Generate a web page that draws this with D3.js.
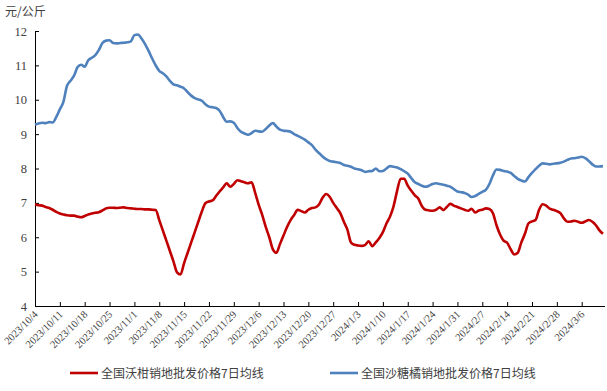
<!DOCTYPE html>
<html>
<head>
<meta charset="utf-8">
<script src="https://cdn.jsdelivr.net/npm/d3@7"></script>
<style>
  body { margin: 0; background: #fff; }
  svg { display: block; }
</style>
</head>
<body>
<div id="chart"></div>
<script>
var startDate = "2023-10-04";
var dayCount = 161;

// 全国沃柑销地批发价格7日均线 (元/公斤), daily from 2023/10/4
var woganValues = [
  6.95, 6.93, 6.92, 6.88, 6.85, 6.80, 6.74, 6.69, 6.66, 6.64,
  6.63, 6.63, 6.60, 6.58, 6.62, 6.66, 6.69, 6.71, 6.73, 6.78,
  6.84, 6.86, 6.86, 6.85, 6.86, 6.87, 6.85, 6.84, 6.83, 6.82,
  6.82, 6.81, 6.81, 6.80, 6.79, 6.50, 6.20, 5.90, 5.60, 5.30,
  4.98, 4.92, 5.25, 5.55, 5.85, 6.15, 6.45, 6.75, 6.99, 7.04,
  7.07, 7.20, 7.33, 7.45, 7.57, 7.47, 7.55, 7.66, 7.63, 7.60,
  7.57, 7.60, 7.30, 6.95, 6.65, 6.30, 6.00, 5.65, 5.55, 5.80,
  6.05, 6.30, 6.50, 6.65, 6.80, 6.76, 6.72, 6.80, 6.85, 6.87,
  6.95, 7.15, 7.26, 7.18, 7.00, 6.85, 6.70, 6.45, 6.22, 5.85,
  5.78, 5.76, 5.75, 5.78, 5.88, 5.74, 5.85, 5.98, 6.15, 6.40,
  6.60, 6.90, 7.35, 7.70, 7.70, 7.50, 7.35, 7.22, 7.12, 6.90,
  6.80, 6.78, 6.77, 6.80, 6.87, 6.79, 6.88, 6.97, 6.92, 6.88,
  6.84, 6.80, 6.77, 6.83, 6.72, 6.78, 6.80, 6.84, 6.82, 6.70,
  6.35, 6.08, 5.90, 5.84, 5.65, 5.50, 5.55, 5.85, 6.10, 6.40,
  6.46, 6.50, 6.80, 6.96, 6.92, 6.83, 6.80, 6.76, 6.70, 6.55,
  6.45, 6.46, 6.48, 6.45, 6.42, 6.46, 6.50, 6.45, 6.35, 6.20,
  6.10
];

// 全国沙糖橘销地批发价格7日均线 (元/公斤)
var shatangjuValues = [
  9.28, 9.31, 9.33, 9.32, 9.35, 9.34, 9.50, 9.72, 9.94, 10.40,
  10.55, 10.70, 10.95, 11.02, 10.96, 11.15, 11.22, 11.30, 11.45, 11.65,
  11.72, 11.73, 11.65, 11.64, 11.65, 11.66, 11.67, 11.70, 11.88, 11.90,
  11.78, 11.62, 11.42, 11.20, 11.00, 10.84, 10.77, 10.68, 10.55, 10.45,
  10.42, 10.38, 10.33, 10.22, 10.12, 10.05, 10.01, 9.97, 9.87, 9.80,
  9.78, 9.76, 9.68, 9.50, 9.36, 9.37, 9.33, 9.18, 9.07, 9.02,
  8.98, 9.03, 9.10, 9.08, 9.07, 9.15, 9.25, 9.32, 9.22, 9.13,
  9.10, 9.09, 9.07, 9.00, 8.95, 8.90, 8.84, 8.76, 8.68, 8.55,
  8.45, 8.35, 8.27, 8.22, 8.20, 8.18, 8.16, 8.10, 8.08, 8.05,
  8.00, 7.98, 7.95, 7.90, 7.92, 7.93, 8.00, 7.92, 7.93, 8.00,
  8.07, 8.05, 8.03, 7.98, 7.92, 7.85, 7.72, 7.60, 7.55, 7.50,
  7.47, 7.50, 7.55, 7.57, 7.55, 7.53, 7.50, 7.47, 7.40, 7.33,
  7.31, 7.29, 7.24, 7.17, 7.20, 7.26, 7.32, 7.38, 7.55, 7.80,
  7.97, 7.96, 7.93, 7.91, 7.87, 7.78, 7.70, 7.65, 7.62, 7.75,
  7.87, 7.98, 8.08, 8.15, 8.14, 8.12, 8.14, 8.15, 8.17, 8.20,
  8.25, 8.29, 8.30, 8.32, 8.34, 8.30, 8.22, 8.12, 8.06, 8.06,
  8.07
];

var yTicks = [4, 5, 6, 7, 8, 9, 10, 11, 12];
var seriesNames = ["全国沃柑销地批发价格7日均线", "全国沙糖橘销地批发价格7日均线"];
var seriesColors = ["#C00000", "#4F81BD"];
var unitLabel = "元/公斤";

var width = 607, height = 391;
var margin = {top: 31, right: 3, bottom: 85, left: 35};

var parseDay = d3.timeParse("%Y-%m-%d");
var day0 = parseDay(startDate);
var dates = d3.range(dayCount).map(function(i) { return d3.timeDay.offset(day0, i); });

var x = d3.scaleTime()
    .domain([dates[0], dates[dates.length - 1]])
    .range([margin.left, width - margin.right - 1]);
var y = d3.scaleLinear()
    .domain([4, 12])
    .range([height - margin.bottom, margin.top]);

var svg = d3.select("#chart").append("svg")
    .attr("width", width)
    .attr("height", height);

svg.append("text")
    .attr("x", 5)
    .attr("y", 16)
    .attr("font-family", "'Noto Sans CJK SC', sans-serif")
    .attr("font-size", 12)
    .attr("fill", "#404040")
    .text(unitLabel);

// y axis
var yAxis = svg.append("g")
    .attr("transform", "translate(" + margin.left + ",0)")
    .call(d3.axisRight(y).tickValues(yTicks).tickSize(4).tickFormat(d3.format("d")));
yAxis.select(".domain").attr("stroke", "#000").attr("d", "M0.5," + y(12) + "V" + y(4));
yAxis.selectAll(".tick line").attr("stroke", "#000");
yAxis.selectAll(".tick text")
    .attr("x", -8)
    .attr("text-anchor", "end")
    .attr("font-family", "'Liberation Serif', serif")
    .attr("font-size", 12.5)
    .attr("fill", "#404040");

// x axis, one tick per week
var weekTicks = d3.range(0, dayCount, 7).map(function(i) { return dates[i]; });
var fmt = function(d) { return d.getFullYear() + "/" + (d.getMonth() + 1) + "/" + d.getDate(); };
var xAxis = svg.append("g")
    .attr("transform", "translate(0," + (height - margin.bottom) + ")")
    .call(d3.axisTop(x).tickValues(weekTicks).tickSize(4).tickFormat(fmt));
xAxis.select(".domain").attr("stroke", "#000")
    .attr("d", "M" + margin.left + ",0.5H" + (width - 2));
xAxis.selectAll(".tick line").attr("stroke", "#000");
xAxis.selectAll(".tick text")
    .attr("text-anchor", "end")
    .attr("font-family", "'Liberation Serif', serif")
    .attr("font-size", 10.5)
    .attr("fill", "#404040")
    .attr("y", 0)
    .attr("dy", 0)
    .attr("transform", "translate(3,9) rotate(-45)");

var line = d3.line()
    .x(function(d, i) { return x(dates[i]); })
    .y(function(d) { return y(d); })
    .curve(d3.curveMonotoneX);

[woganValues, shatangjuValues].forEach(function(vals, k) {
    svg.append("path")
        .datum(vals)
        .attr("fill", "none")
        .attr("stroke", seriesColors[k])
        .attr("stroke-width", 2.6)
        .attr("stroke-linejoin", "round")
        .attr("d", line);
});

// legend
var legendX = [70, 330];
seriesNames.forEach(function(name, k) {
    var g = svg.append("g").attr("transform", "translate(" + legendX[k] + ",373)");
    g.append("line")
        .attr("x1", 0).attr("x2", 28)
        .attr("y1", 0).attr("y2", 0)
        .attr("stroke", seriesColors[k])
        .attr("stroke-width", 2.6);
    g.append("text")
        .attr("x", 31)
        .attr("y", 4.5)
        .attr("font-family", "'Noto Sans CJK SC', sans-serif")
        .attr("font-size", 12)
        .attr("fill", "#404040")
        .text(name);
});
</script>
</body>
</html>
